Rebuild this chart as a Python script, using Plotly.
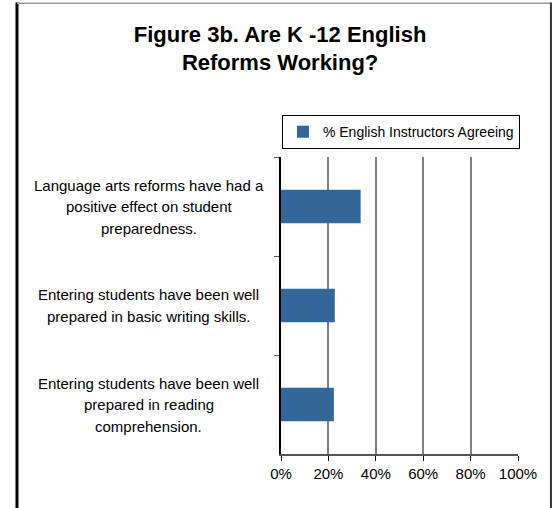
import plotly.graph_objects as go

# Survey data
statements = [
    "Language arts reforms have had a<br>positive effect on student<br>preparedness.",
    "Entering students have been well<br>prepared in basic writing skills.",
    "Entering students have been well<br>prepared in reading<br>comprehension.",
]
pct_agreeing = [0.336, 0.227, 0.223]
series_name = "% English Instructors Agreeing"
x_ticks = [0, 0.2, 0.4, 0.6, 0.8, 1.0]

FONT = "Liberation Sans, Arial, sans-serif"
BAR = "#336699"

fig = go.Figure(go.Bar(
    x=pct_agreeing, y=statements, orientation="h",
    name=series_name, showlegend=True,
    marker=dict(color=BAR, line=dict(width=0)),
))

# category labels drawn as centred multi-line text (one annotation per line)
for s in statements:
    lines = s.split("<br>")
    n = len(lines)
    for i, ln in enumerate(lines):
        fig.add_annotation(
            x=-0.557, xref="paper", y=s, yref="y",
            text=ln, showarrow=False, xanchor="center", yanchor="middle",
            yshift=((n - 1) / 2 - i) * 21.5,
            font=dict(family=FONT, size=15, color="black"),
        )

# outer frame
fig.add_shape(type="line", xref="paper", yref="paper", x0=-1.114, x1=-1.114, y0=1.52, y1=-0.25,
              line=dict(color="black", width=3))
fig.add_shape(type="line", xref="paper", yref="paper", x0=-1.114, x1=1.139, y0=1.518, y1=1.518,
              line=dict(color="#999999", width=1.5))
fig.add_shape(type="line", xref="paper", yref="paper", x0=1.139, x1=1.139, y0=1.52, y1=-0.25,
              line=dict(color="#333333", width=2))

fig.update_layout(
    width=558, height=508,
    margin=dict(l=281, r=40, t=157, b=54, autoexpand=False),
    paper_bgcolor="white", plot_bgcolor="white",
    font=dict(family=FONT, size=15, color="black"),
    title=dict(
        text="<b>Figure 3b. Are K -12 English<br>Reforms Working?</b>",
        x=0.502, xanchor="center", y=0.918, yanchor="top",
        font=dict(family=FONT, size=22, color="black"),
    ),
    bargap=0.66,
    legend=dict(
        x=0.004, y=1.141, xanchor="left", yanchor="top",
        bordercolor="black", borderwidth=1, bgcolor="white",
        font=dict(family=FONT, size=14, color="black"),
        itemwidth=30,
    ),
    xaxis=dict(
        range=[0, 1], tickvals=x_ticks, tickformat=".0%",
        showgrid=True, gridcolor="#808080", gridwidth=1.5,
        showline=True, linecolor="#555555", linewidth=1.5,
        ticks="outside", ticklen=5, tickcolor="black",
        zeroline=False, fixedrange=True,
    ),
    yaxis=dict(
        autorange="reversed", showticklabels=False,
        showline=True, linecolor="black", linewidth=1.5,
        ticks="outside", ticklen=5, tickcolor="#555555", tickson="boundaries",
        showgrid=False, zeroline=False,
    ),
)

# drop the default page margin so the figure sits at the window origin
fig.write_html("out.html", config={"displayModeBar": False},
               post_script="document.body.style.margin='0';")
